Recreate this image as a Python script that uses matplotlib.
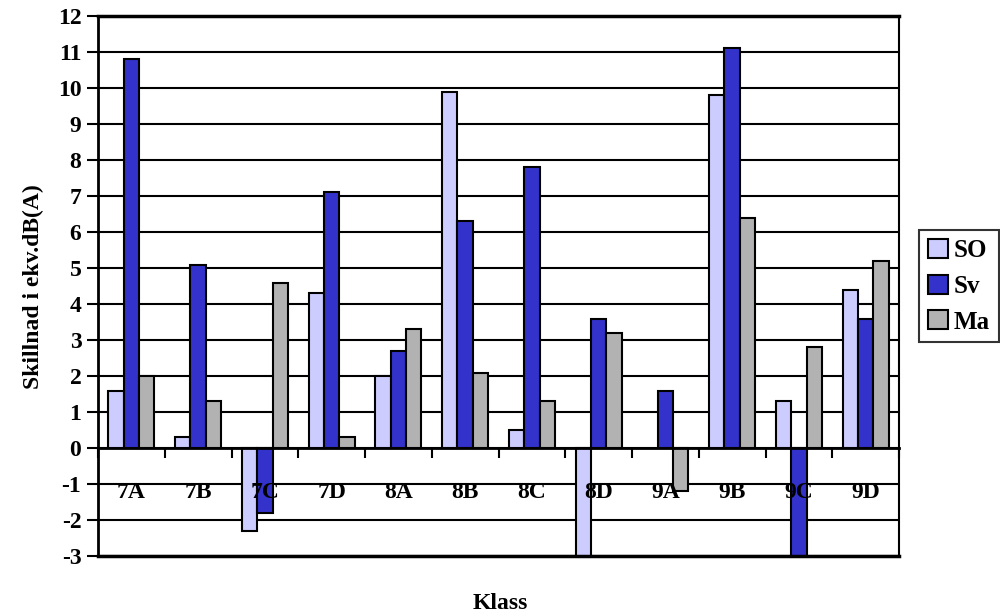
import numpy as np
import matplotlib.pyplot as plt

# Data
classes = ["7A", "7B", "7C", "7D", "8A", "8B", "8C", "8D", "9A", "9B", "9C", "9D"]
so_vals = [1.6, 0.3, -2.3, 4.3, 2.0, 9.9, 0.5, -3.5, np.nan, 9.8, 1.3, 4.4]
sv_vals = [10.8, 5.1, -1.8, 7.1, 2.7, 6.3, 7.8, 3.6, 1.6, 11.1, -3.5, 3.6]
ma_vals = [2.0, 1.3, 4.6, 0.3, 3.3, 2.1, 1.3, 3.2, -1.2, 6.4, 2.8, 5.2]
series_names = ["SO", "Sv", "Ma"]
series_colors = ["#ccccff", "#3333cc", "#b2b2b2"]
y_ticks = list(range(-3, 13))

plt.rcParams["font.family"] = ["Liberation Serif", "DejaVu Serif"]
plt.rcParams["font.weight"] = "bold"

fig = plt.figure(figsize=(10, 6.16), dpi=100)
ax = fig.add_axes([0.098, 0.097, 0.801, 0.877])

x = np.arange(len(classes))
width = 0.23
for i, (vals, name, col) in enumerate(zip([so_vals, sv_vals, ma_vals], series_names, series_colors)):
    ax.bar(x + (i - 1) * width, vals, width, color=col, edgecolor="black",
           linewidth=1.5, label=name, zorder=3)

ax.set_xlim(-0.5, len(classes) - 0.5)
ax.set_ylim(-3, 12)
ax.set_yticks(y_ticks)
ax.set_yticklabels([str(v) for v in y_ticks], fontsize=17, fontweight="bold")
for v in y_ticks:
    ax.axhline(v, color="black", linewidth=1.5, zorder=1)

# category axis crosses at zero
ax.spines["bottom"].set_position(("data", 0))
ax.spines["bottom"].set_linewidth(2)
ax.spines["bottom"].set_zorder(4)
ax.xaxis.set_zorder(6)
ax.set_xticks(np.arange(len(classes) + 1) - 0.5)
ax.set_xticklabels([])
ax.set_xticks(x, minor=True)
ax.set_xticklabels(classes, minor=True, fontsize=17, fontweight="bold")
ax.tick_params(axis="x", which="major", direction="out", length=7, width=1.5)
ax.tick_params(axis="x", which="minor", length=0, pad=24)
ax.tick_params(axis="y", direction="out", length=8, width=1.5, pad=4)
for s in ["top", "right"]:
    ax.spines[s].set_linewidth(1.5)
ax.spines["left"].set_linewidth(2)
ax.spines["top"].set_linewidth(2.5)
ax.axhline(-3, color="black", linewidth=2.5, clip_on=False, zorder=5)

ax.set_ylabel("Skillnad i ekv.dB(A)", fontsize=17, fontweight="bold", labelpad=10)
fig.text(0.5, 0.012, "Klass", ha="center", fontsize=17, fontweight="bold")

leg = ax.legend(loc="center left", bbox_to_anchor=(1.025, 0.5), frameon=True,
                fancybox=False, edgecolor="black", fontsize=18, handlelength=0.8,
                handleheight=0.8, handletextpad=0.25, borderpad=0.35, labelspacing=0.5,
                borderaxespad=0)
leg.get_frame().set_linewidth(1.5)
for t in leg.get_texts():
    t.set_fontweight("bold")

fig.savefig("out.png", dpi=100)
